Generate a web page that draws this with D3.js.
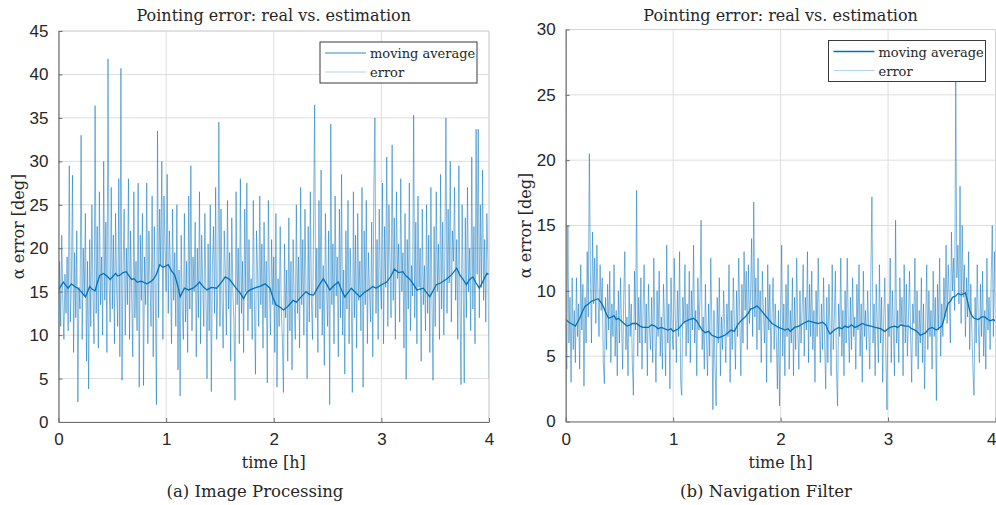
<!DOCTYPE html>
<html>
<head>
<meta charset="utf-8">
<script src="https://cdn.jsdelivr.net/npm/d3@7"></script>
<style>
  body { margin: 0; background: #fff; }
  svg { display: block; }
</style>
</head>
<body>
<div id="graphicContainer"></div>
<script>

// sample spacing of the error series (hours)
var sampleStep = 0.01;

// (a) Image Processing: pointing error, one value per 0.01 h
var imgError = [
  5.8, 18.5, 11.0, 21.5, 14.0, 9.5, 17.0, 12.5, 19.0, 10.5,
  29.5, 11.5, 16.0, 28.4, 8.0, 19.5, 12.0, 22.0, 2.3, 15.5,
  13.0, 33.0, 9.5, 20.0, 14.5, 24.0, 7.0, 18.5, 3.8, 21.0,
  11.0, 25.0, 15.0, 9.0, 36.4, 12.5, 22.5, 8.5, 26.5, 13.5,
  19.0, 10.0, 30.0, 14.0, 23.0, 8.0, 41.8, 16.0, 11.5, 27.0,
  13.0, 21.5, 9.0, 24.0, 15.5, 11.0, 28.0, 7.5, 40.7, 4.8,
  17.5, 24.5, 10.0, 20.0, 13.5, 28.0, 9.5, 22.0, 14.5, 7.5,
  26.5, 12.0, 18.5, 10.5, 27.5, 4.0, 21.5, 14.0, 24.0, 4.2,
  19.0, 13.5, 27.5, 9.0, 22.0, 16.0, 11.0, 26.0, 7.5, 22.5,
  14.5, 2.0, 33.5, 12.0, 24.5, 18.0, 30.0, 9.5, 26.0, 20.0,
  15.0, 28.5, 12.5, 22.0, 18.0, 9.0, 24.5, 14.0, 19.5, 11.0,
  25.0, 6.0, 17.5, 3.0, 21.5, 13.0, 9.5, 24.0, 11.5, 18.5,
  8.0, 26.0, 13.0, 29.5, 10.5, 19.0, 15.0, 23.0, 7.5, 20.0,
  12.0, 26.5, 9.0, 21.5, 16.0, 11.0, 24.0, 14.5, 5.0, 20.5,
  10.5, 25.0, 3.5, 18.0, 22.5, 12.5, 27.0, 9.5, 15.5, 34.5,
  11.0, 24.5, 14.0, 8.5, 22.0, 17.5, 10.0, 25.5, 13.0, 19.5,
  7.0, 23.5, 15.0, 11.5, 2.5, 26.5, 13.5, 20.0, 9.0, 28.0,
  12.5, 18.5, 8.0, 24.5, 15.0, 27.5, 10.5, 21.0, 13.0, 16.5,
  9.5, 25.5, 14.0, 5.5, 22.0, 17.0, 11.0, 26.0, 13.5, 20.5,
  8.5, 23.0, 12.0, 18.5, 4.5, 25.5, 15.5, 10.0, 21.0, 13.5,
  19.0, 8.0, 24.0, 4.0, 16.5, 11.0, 22.5, 13.0, 9.5, 3.4,
  20.5, 12.0, 17.5, 7.0, 23.5, 10.5, 18.5, 6.0, 21.0, 14.0,
  9.5, 25.0, 12.5, 19.0, 8.5, 27.0, 13.5, 21.0, 10.0, 24.5,
  15.0, 5.0, 22.5, 11.5, 26.5, 14.0, 9.5, 23.0, 36.5, 12.0,
  20.0, 8.0, 25.5, 13.0, 29.0, 10.0, 18.0, 6.5, 24.0, 15.5,
  11.0, 22.0, 2.0, 34.3, 13.5, 20.5, 9.0, 26.0, 14.5, 19.0,
  7.5, 24.5, 12.0, 28.5, 10.0, 17.5, 5.5, 22.0, 13.0, 25.5,
  9.0, 20.0, 15.0, 3.4, 26.5, 12.0, 21.5, 8.5, 24.0, 14.0,
  18.5, 10.5, 27.0, 4.0, 22.0, 13.5, 25.5, 9.0, 19.5, 15.0,
  11.5, 23.0, 7.5, 26.5, 35.0, 12.5, 21.0, 9.5, 24.5, 16.0,
  13.0, 27.5, 9.0, 22.5, 15.5, 30.5, 11.0, 25.0, 18.5, 12.0,
  31.9, 14.0, 23.5, 9.5, 26.5, 16.5, 20.5, 11.5, 28.0, 15.0,
  19.5, 8.5, 24.0, 4.9, 21.0, 13.0, 27.5, 10.5, 18.0, 14.5,
  35.3, 12.0, 23.0, 9.0, 26.0, 15.5, 20.0, 7.0, 24.5, 13.5,
  18.0, 10.5, 25.0, 12.5, 21.5, 8.0, 27.0, 14.0, 4.8, 22.5,
  11.0, 26.5, 15.0, 20.5, 9.5, 28.5, 13.0, 23.0, 10.0, 19.5,
  35.0, 12.5, 24.5, 16.0, 30.0, 11.5, 22.0, 18.5, 27.0, 14.0,
  21.0, 9.5, 29.5, 13.5, 4.3, 25.0, 16.5, 4.5, 23.5, 12.0,
  27.0, 15.0, 20.0, 10.5, 30.5, 13.0, 22.5, 9.0, 33.7, 17.0,
  33.7, 12.0, 25.0, 15.5, 29.0, 14.0, 21.0, 11.5, 24.0, 18.5,
  5.0
];

// (a) moving average: [hour, deg]
var imgAvg = [
  [0,15.2],[0.02,15.6],[0.045,16.1],[0.07,15.7],[0.09,15.4],[0.12,15.9],[0.15,15.6],[0.18,15.4],
  [0.21,15.0],[0.25,14.4],[0.29,15.6],[0.31,15.3],[0.34,15.1],[0.36,16.0],[0.385,16.9],[0.42,17.1],
  [0.45,16.8],[0.48,16.4],[0.53,17.1],[0.55,16.8],[0.57,16.9],[0.60,17.2],[0.63,17.3],[0.65,16.9],
  [0.68,16.4],[0.70,16.5],[0.73,16.1],[0.77,16.2],[0.82,15.9],[0.85,16.1],[0.88,16.4],[0.91,17.0],
  [0.94,18.1],[0.97,17.8],[0.99,17.9],[1.02,18.1],[1.05,17.4],[1.08,16.9],[1.11,15.6],[1.13,14.4],
  [1.17,15.4],[1.21,15.2],[1.25,15.4],[1.28,15.7],[1.31,16.1],[1.35,15.5],[1.38,15.2],[1.42,15.5],
  [1.47,15.4],[1.51,16.0],[1.55,16.7],[1.59,16.4],[1.62,15.9],[1.65,15.4],[1.69,14.8],[1.72,14.2],
  [1.75,14.9],[1.78,15.2],[1.82,15.4],[1.87,15.6],[1.92,15.9],[1.965,15.4],[1.99,14.4],[2.02,13.5],
  [2.06,13.2],[2.09,12.9],[2.13,13.3],[2.18,14.0],[2.21,13.8],[2.24,14.2],[2.27,14.6],[2.30,15.0],
  [2.33,14.7],[2.37,14.6],[2.41,15.5],[2.46,16.5],[2.49,15.9],[2.52,15.2],[2.56,15.7],[2.60,16.1],
  [2.63,15.2],[2.66,14.4],[2.69,14.9],[2.72,15.4],[2.76,14.9],[2.80,14.4],[2.84,14.9],[2.88,15.2],
  [2.92,15.6],[2.95,15.4],[3.00,15.8],[3.05,16.1],[3.09,16.8],[3.12,17.6],[3.16,17.2],[3.20,17.3],
  [3.23,16.8],[3.26,16.5],[3.30,15.8],[3.33,15.2],[3.39,15.4],[3.42,14.9],[3.45,14.4],[3.48,15.1],
  [3.51,15.8],[3.55,16.0],[3.60,16.4],[3.65,16.9],[3.70,17.7],[3.73,16.9],[3.76,16.4],[3.79,15.8],
  [3.82,16.4],[3.85,16.7],[3.88,16.0],[3.91,15.4],[3.94,16.1],[3.98,17.1],[4.0,17.0]
];

// (b) Navigation Filter: pointing error, one value per 0.01 h
var navError = [
  7.5, 4.0, 15.0, 6.0, 9.5, 3.0, 11.0, 5.5, 8.5, 4.5,
  11.0, 6.5, 9.0, 4.0, 12.0, 7.0, 10.5, 2.7, 9.5, 6.0,
  13.0, 8.0, 20.5, 11.5, 6.0, 14.5, 9.0, 12.5, 7.5, 13.5,
  10.0, 6.5, 12.0, 8.5, 11.0, 4.5, 2.9, 9.5, 5.5, 10.5,
  7.0, 11.5, 4.5, 9.0, 6.5, 12.0, 5.0, 8.5, 3.5, 10.0,
  6.0, 11.0, 7.5, 4.0, 9.5, 13.0, 5.5, 8.0, 3.5, 10.5,
  6.5, 9.0, 4.5, 2.0, 11.5, 7.0, 17.7, 5.0, 9.5, 6.0,
  11.0, 4.0, 8.5, 12.0, 6.0, 9.0, 3.5, 10.5, 7.0, 5.5,
  9.5, 4.5, 12.5, 7.0, 3.0, 10.0, 6.5, 11.5, 5.0, 8.0,
  4.0, 10.5, 7.5, 3.5, 13.5, 6.0, 9.0, 2.5, 11.0, 7.0,
  5.5, 12.5, 8.0, 4.5, 10.0, 6.5, 13.0, 3.0, 2.0, 9.5,
  7.5, 12.0, 5.0, 9.0, 6.0, 11.5, 4.5, 10.0, 7.0, 13.5,
  6.0, 8.5, 3.5, 11.0, 7.0, 9.5, 15.4, 5.5, 8.0, 4.0,
  10.5, 6.5, 3.5, 9.0, 5.0, 12.5, 7.5, 0.9, 8.5, 4.0,
  1.2, 9.5, 6.0, 11.0, 3.5, 8.0, 5.5, 10.0, 7.0, 4.5,
  9.0, 6.5, 12.0, 3.0, 8.5, 5.5, 11.0, 7.5, 4.0, 10.0,
  6.5, 12.5, 8.0, 3.5, 10.5, 6.0, 13.0, 8.5, 11.5, 5.5,
  12.0, 7.5, 9.5, 14.0, 6.5, 16.8, 8.0, 11.0, 5.5, 12.5,
  7.0, 10.0, 4.5, 11.5, 8.5, 6.0, 9.5, 3.0, 12.0, 7.0,
  10.5, 4.5, 8.0, 11.0, 5.5, 9.0, 6.5, 2.5, 8.5, 1.2,
  7.5, 13.5, 5.0, 9.0, 3.5, 10.5, 6.5, 12.0, 4.0, 8.5,
  6.0, 11.0, 3.5, 9.5, 5.5, 12.5, 7.0, 4.0, 10.0, 6.0,
  8.5, 12.0, 5.0, 9.5, 7.0, 13.0, 4.5, 10.5, 6.5, 11.5,
  5.5, 8.5, 3.0, 10.0, 6.5, 12.5, 7.5, 4.5, 9.0, 5.5,
  11.0, 6.0, 2.5, 9.5, 4.5, 10.5, 7.0, 3.5, 12.0, 5.5,
  8.0, 11.5, 4.0, 1.2, 9.0, 6.5, 12.5, 5.0, 8.5, 3.5,
  10.0, 6.0, 12.5, 7.5, 4.5, 9.5, 5.5, 11.0, 6.5, 8.0,
  4.0, 10.5, 7.0, 12.0, 5.0, 9.0, 3.0, 11.5, 6.5, 8.5,
  5.5, 10.0, 7.0, 4.0, 11.5, 17.2, 6.0, 9.0, 3.5, 10.5,
  7.5, 4.5, 12.0, 6.0, 9.5, 3.0, 8.0, 11.0, 5.0, 0.9,
  9.0, 6.5, 12.5, 4.5, 10.0, 7.0, 3.5, 15.4, 6.0, 8.5,
  4.5, 11.0, 7.5, 9.5, 3.5, 12.0, 6.0, 10.5, 5.0, 8.0,
  11.5, 6.5, 3.0, 9.0, 7.5, 12.5, 5.0, 10.0, 4.0, 8.5,
  6.0, 11.0, 4.5, 9.0, 2.5, 7.5, 12.0, 5.5, 10.0, 6.5,
  8.5, 4.0, 11.5, 6.5, 9.5, 1.6, 10.5, 7.0, 12.5, 5.0,
  9.0, 6.5, 11.0, 8.0, 13.5, 7.5, 12.0, 9.5, 6.0, 14.5,
  10.0, 12.5, 8.5, 26.0, 11.0, 13.5, 9.0, 18.0, 7.5, 15.0,
  9.5, 12.0, 6.5, 11.0, 8.0, 13.0, 5.5, 10.5, 7.0, 4.0,
  2.0, 9.5, 6.0, 12.0, 7.5, 4.5, 10.5, 6.5, 11.5, 5.0,
  8.5, 4.0, 12.5, 7.0, 9.5, 5.5, 11.0, 15.0, 6.5, 13.0,
  7.5
];

// (b) moving average: [hour, deg]
var navAvg = [
  [0.0,7.8],[0.03,7.6],[0.05,7.5],[0.07,7.4],[0.09,7.3],[0.11,7.6],[0.13,7.9],[0.16,8.5],
  [0.18,8.8],[0.21,9.0],[0.24,9.2],[0.27,9.3],[0.30,9.4],[0.33,9.1],[0.35,8.8],[0.38,8.2],
  [0.40,7.9],[0.43,8.0],[0.45,8.1],[0.47,7.8],[0.49,7.9],[0.53,7.6],[0.57,7.3],[0.60,7.4],
  [0.62,7.5],[0.66,7.5],[0.69,7.3],[0.72,7.2],[0.77,7.2],[0.80,7.4],[0.83,7.3],[0.86,7.1],
  [0.89,7.2],[0.95,7.0],[0.98,7.1],[1.0,6.9],[1.05,7.1],[1.08,7.4],[1.1,7.6],[1.15,7.8],
  [1.19,7.9],[1.22,7.7],[1.24,7.4],[1.27,7.0],[1.30,6.8],[1.33,6.9],[1.36,6.6],[1.39,6.5],
  [1.42,6.4],[1.45,6.5],[1.48,6.6],[1.51,6.8],[1.54,7.0],[1.57,6.9],[1.60,7.4],[1.63,7.7],
  [1.67,8.0],[1.70,8.3],[1.72,8.6],[1.75,8.7],[1.78,8.85],[1.81,8.6],[1.84,8.3],[1.87,8.0],
  [1.89,7.8],[1.92,7.5],[1.94,7.4],[1.98,7.2],[2.01,7.1],[2.04,7.0],[2.07,7.1],[2.09,6.9],
  [2.13,7.2],[2.17,7.3],[2.21,7.5],[2.26,7.7],[2.30,7.6],[2.35,7.5],[2.39,7.6],[2.42,7.4],
  [2.44,7.0],[2.46,6.7],[2.50,7.0],[2.54,7.2],[2.57,7.1],[2.60,7.3],[2.63,7.2],[2.66,7.4],
  [2.69,7.2],[2.72,7.3],[2.76,7.5],[2.79,7.4],[2.84,7.3],[2.88,7.2],[2.93,7.1],[2.97,6.9],
  [3.00,7.1],[3.02,7.2],[3.06,7.3],[3.09,7.2],[3.12,7.4],[3.16,7.3],[3.19,7.3],[3.22,7.1],
  [3.25,7.0],[3.28,6.8],[3.30,6.6],[3.33,6.7],[3.35,6.8],[3.38,7.1],[3.41,7.2],[3.45,7.0],
  [3.50,7.3],[3.52,7.8],[3.53,8.2],[3.56,9.05],[3.58,9.2],[3.60,9.5],[3.63,9.6],[3.65,9.8],
  [3.68,9.7],[3.72,9.85],[3.74,9.2],[3.76,8.5],[3.78,8.1],[3.80,7.9],[3.84,7.8],[3.87,8.0],
  [3.90,8.0],[3.93,7.8],[3.95,7.7],[3.98,7.8],[4.0,7.7]
];

var xTicks = [0, 1, 2, 3, 4];
var imgYTicks = [0, 5, 10, 15, 20, 25, 30, 35, 40, 45];
var navYTicks = [0, 5, 10, 15, 20, 25, 30];
var legendLabels = ["moving average", "error"];
var titleText = "Pointing error: real vs. estimation";
var xLabelText = "time [h]";
var yLabelText = "\u03b1 error [deg]";

var blue = "#0072BD";
var serifFont = "'DejaVu Serif', 'Liberation Serif', serif";
var sansFont = "'Liberation Sans', Arial, sans-serif";

var svg = d3.select("#graphicContainer").append("svg")
    .attr("width", 996)
    .attr("height", 505);

function serifText(sel, size) {
    return sel.append("text")
        .attr("fill", "#262626")
        .style("font-family", serifFont)
        .style("font-size", size + "px");
}

function drawPanel(opt) {

    var x = d3.scaleLinear().domain([0, 4]).range([opt.left, opt.right]);
    var y = d3.scaleLinear().domain([0, opt.yMax]).range([opt.bottom, opt.top]);

    var g = svg.append("g");

    // grid
    g.append("g").selectAll("line").data(xTicks).enter().append("line")
        .attr("x1", d => x(d)).attr("x2", d => x(d))
        .attr("y1", opt.top).attr("y2", opt.bottom)
        .attr("stroke", "#dedede").attr("stroke-width", 1);
    g.append("g").selectAll("line").data(opt.yTicks).enter().append("line")
        .attr("x1", opt.left).attr("x2", opt.right)
        .attr("y1", d => y(d)).attr("y2", d => y(d))
        .attr("stroke", "#dedede").attr("stroke-width", 1);

    var clipId = "clip" + opt.id;
    svg.append("clipPath").attr("id", clipId).append("rect")
        .attr("x", opt.left).attr("y", opt.top)
        .attr("width", opt.right - opt.left).attr("height", opt.bottom - opt.top);

    var errLine = d3.line()
        .x(function(d, i) { return x(i * sampleStep); })
        .y(function(d) { return y(d); });

    var avgLine = d3.line()
        .x(function(d) { return x(d[0]); })
        .y(function(d) { return y(d[1]); });

    var plot = g.append("g").attr("clip-path", "url(#" + clipId + ")");

    plot.append("path")
        .datum(opt.error)
        .attr("d", errLine)
        .attr("fill", "none")
        .attr("stroke", blue)
        .attr("stroke-opacity", 0.5)
        .attr("stroke-width", 1);

    plot.append("path")
        .datum(opt.avg)
        .attr("d", avgLine)
        .attr("fill", "none")
        .attr("stroke", blue)
        .attr("stroke-width", 1.3);

    // box: light top and right, darker axes
    g.append("line").attr("x1", opt.left).attr("x2", opt.right).attr("y1", opt.top).attr("y2", opt.top)
        .attr("stroke", "#d4d4d4");
    g.append("line").attr("x1", opt.right).attr("x2", opt.right).attr("y1", opt.top).attr("y2", opt.bottom)
        .attr("stroke", "#d4d4d4");

    var xAxis = d3.axisBottom(x).tickValues(xTicks).tickFormat(d3.format("d"))
        .tickSizeInner(-4).tickSizeOuter(0).tickPadding(11);
    var yAxis = d3.axisLeft(y).tickValues(opt.yTicks).tickFormat(d3.format("d"))
        .tickSizeInner(-4).tickSizeOuter(0).tickPadding(10);

    var gx = g.append("g")
        .attr("transform", "translate(0," + opt.bottom + ")")
        .call(xAxis);
    var gy = g.append("g")
        .attr("transform", "translate(" + opt.left + ",0)")
        .call(yAxis);

    [gx, gy].forEach(function(a) {
        a.attr("font-family", sansFont).attr("font-size", 17);
        a.select(".domain").attr("stroke", "#6e6e6e").attr("stroke-width", 1.2);
        a.selectAll(".tick line").attr("stroke", "#6e6e6e");
        a.selectAll(".tick text").attr("fill", "#262626");
    });

    // keep a label that would run past the page edge inside it
    gx.selectAll(".tick text").each(function(d) {
        if (x(d) + 5 > 996) d3.select(this).attr("text-anchor", "end").attr("x", 996 - x(d));
    });

    var cx = (opt.left + opt.right) / 2;

    serifText(g, 16)
        .attr("x", cx).attr("y", 21)
        .attr("text-anchor", "middle")
        .text(titleText);

    serifText(g, 16)
        .attr("x", cx).attr("y", 468)
        .attr("text-anchor", "middle")
        .text(xLabelText);

    serifText(g, 16)
        .attr("transform", "translate(" + (opt.left - 35) + "," + ((opt.top + opt.bottom) / 2) + ") rotate(-90)")
        .attr("text-anchor", "middle")
        .text(yLabelText);

    serifText(g, 16.5)
        .attr("x", opt.captionX).attr("y", 497)
        .attr("text-anchor", "middle")
        .text(opt.caption);

    // legend
    var lw = 157, lh = 41;
    var lx = opt.right - opt.legendRight - lw, ly = opt.top + 11;
    var lg = g.append("g").attr("transform", "translate(" + lx + "," + ly + ")");
    lg.append("rect").attr("width", lw).attr("height", lh)
        .attr("fill", "#fff").attr("stroke", "#3a3a3a").attr("stroke-width", 1);
    legendLabels.forEach(function(name, i) {
        var ry = 11 + i * 19;
        lg.append("line")
            .attr("x1", 5).attr("x2", 46).attr("y1", ry).attr("y2", ry)
            .attr("stroke", blue)
            .attr("stroke-opacity", opt.legendOpacity[i])
            .attr("stroke-width", i === 0 ? 1.3 : 1);
        serifText(lg, 13)
            .attr("x", 50).attr("y", ry + 5)
            .text(name);
    });
}

drawPanel({
    id: "a", left: 58.5, right: 489, top: 31, bottom: 422, yMax: 45,
    yTicks: imgYTicks, error: imgError, avg: imgAvg,
    caption: "(a) Image Processing", captionX: 255,
    legendRight: 12, legendOpacity: [0.55, 0.3]
});

drawPanel({
    id: "b", left: 565.7, right: 995.5, top: 29.5, bottom: 421.5, yMax: 30,
    yTicks: navYTicks, error: navError, avg: navAvg,
    caption: "(b) Navigation Filter", captionX: 766,
    legendRight: 10, legendOpacity: [1, 0.3]
});

</script>
</body>
</html>
